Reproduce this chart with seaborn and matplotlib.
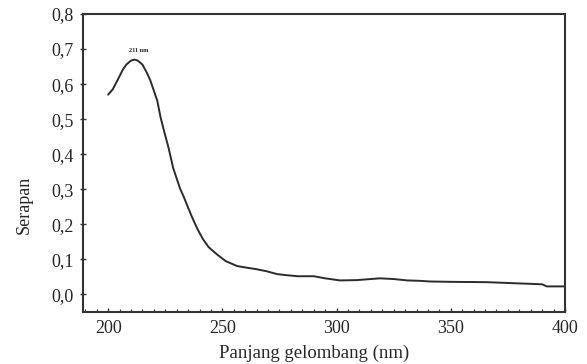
import numpy as np
import pandas as pd
import seaborn as sns
import matplotlib.pyplot as plt
from matplotlib.ticker import MultipleLocator, FuncFormatter

# spektrum serapan
wavelength = [200, 202, 204, 206.5, 208, 210, 211.5, 213, 215, 217,
              218.5, 221.5, 223, 224.5, 226.5, 228.5, 231.5, 233, 236.5, 239,
              241.5, 244, 247.5, 251.5, 256.5, 261, 265, 269.5, 274, 278,
              283, 290, 295, 301.5, 309, 313, 319, 325, 331, 336,
              341, 350, 366, 378, 390, 392, 400]
absorbance = [0.570, 0.585, 0.610, 0.642, 0.656, 0.667, 0.670, 0.667, 0.656, 0.632,
              0.610, 0.553, 0.504, 0.466, 0.417, 0.360, 0.302, 0.280, 0.224, 0.188,
              0.158, 0.135, 0.115, 0.095, 0.081, 0.076, 0.072, 0.066, 0.058, 0.055,
              0.052, 0.052, 0.046, 0.040, 0.041, 0.043, 0.046, 0.044, 0.040, 0.039,
              0.037, 0.036, 0.035, 0.032, 0.029, 0.023, 0.023]

x_ticks = [200, 250, 300, 350, 400]
y_ticks = [0.0, 0.1, 0.2, 0.3, 0.4, 0.5, 0.6, 0.7, 0.8]
peak_label = "211 nm"

sns.set_style("ticks")
plt.rcParams['font.family'] = ['Liberation Serif', 'DejaVu Serif']

df = pd.DataFrame({'nm': wavelength, 'A': absorbance})

fig = plt.figure(figsize=(5.87, 3.64), dpi=100)
ax = fig.add_axes([0.1414, 0.1429, 0.8211, 0.8186])

sns.lineplot(data=df, x='nm', y='A', ax=ax, color='#2b2b2b', linewidth=1.4)

ax.set_xlim(189, 400)
ax.set_ylim(-0.05, 0.8)
ax.set_xticks(x_ticks)
ax.set_yticks(y_ticks)
ax.xaxis.set_minor_locator(MultipleLocator(5))
ax.yaxis.set_major_formatter(FuncFormatter(lambda v, p: f"{v:.1f}".replace('.', ',')))

ax.tick_params(axis='x', which='major', direction='in', length=3, width=1,
               labelsize=13, pad=6, color='#333333')
ax.tick_params(axis='x', which='minor', direction='in', length=2.5, width=0.8,
               color='#333333')
ax.tick_params(axis='y', which='major', direction='inout', length=5, width=1,
               labelsize=13, pad=4, color='#333333')

for s in ax.spines.values():
    s.set_visible(True)
    s.set_linewidth(1.5)
    s.set_color('#333333')

ax.text(213.5, 0.69, peak_label, fontsize=4.5, fontweight='bold',
        ha='center', va='bottom', color='#222222')

ax.set_xlabel('Panjang gelombang (nm)', fontsize=13.5)
ax.set_ylabel('Serapan', fontsize=13)
ax.xaxis.set_label_coords(0.48, -0.11)
ax.yaxis.set_label_coords(-0.105, 0.36)

fig.savefig('out.png', dpi=100, facecolor='white')
